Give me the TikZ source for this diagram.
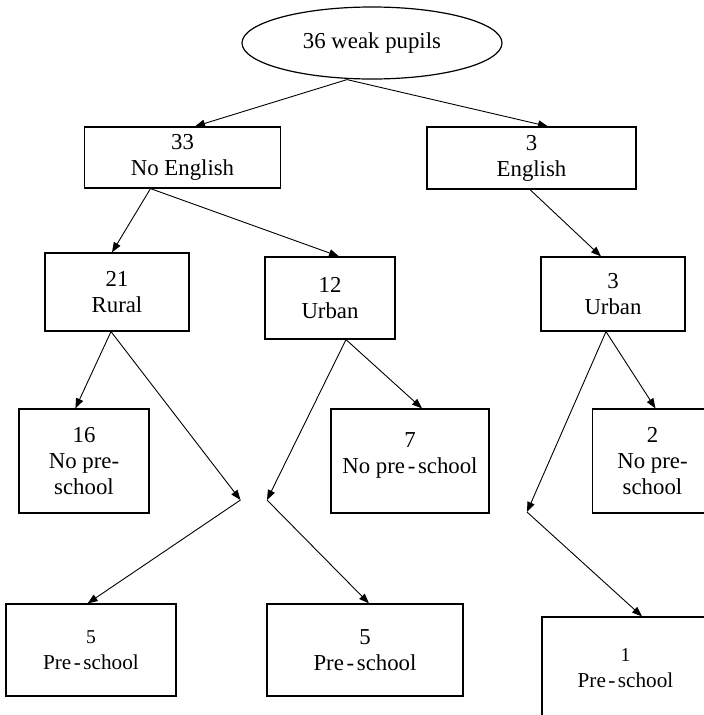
\documentclass[tikz,border=0pt]{standalone}
\usepackage{fontspec}
\usepackage{graphicx}
\setmainfont{Liberation Serif}
\usetikzlibrary{arrows.meta,shapes.geometric}
% spaced hyphen as set in the printed tree
\newcommand\sphy{\hspace{2.7pt}-\hspace{2.7pt}}
% smaller type used in the outer pre-school boxes
\newcommand\smallnum[1]{\scalebox{0.86}{#1}}
\newcommand\smalltxt[1]{\scalebox{0.93}{#1}}
\begin{document}
\begin{tikzpicture}[x=1pt,y=-1pt,
  every node/.style={font=\fontsize{22.8}{26}\selectfont, align=center, inner sep=0pt},
  box/.style={draw, line width=1.2pt, rectangle, minimum width=#1},
  oval/.style={draw, line width=1.2pt, ellipse},
  link/.style={line width=0.9pt, -{Triangle[length=10pt,width=7.5pt]}}]
\useasboundingbox (0,0) rectangle (704,715);
\clip (0,0) rectangle (704,715);

% top of the tree
\node[oval, minimum width=260pt, minimum height=72pt] (root) at (372,43) {36 weak pupils};

% first split
\node[box=196pt, minimum height=61pt] (noeng) at (182.5,157.5) {33\\No English};
\node[box=209pt, minimum height=62pt] (eng) at (531.5,158) {3\\English};

% second split
\node[box=144pt, minimum height=78pt] (rural) at (117,292) {21\\Rural};
\node[box=130pt, minimum height=82pt] (urbanA) at (330,298) {12\\Urban};
\node[box=144pt, minimum height=74pt] (urbanB) at (613,294) {3\\Urban};

% pre-school split: no pre-school
\node[box=130pt, minimum height=104pt] (nopsA) at (84,461) {16\\No pre-\\school};
\node[box=158pt, minimum height=104pt, text depth=15pt] (nopsB) at (410,461) {7\\No pre\sphy school};
\node[box=120pt, minimum height=104pt] (nopsC) at (652.5,461) {2\\No pre-\\school};

% pre-school split: pre-school
\node[box=170pt, minimum height=92pt] (psA) at (91,650) {\smallnum{5}\\\smalltxt{Pre\sphy school}};
\node[box=196pt, minimum height=92pt] (psB) at (365,650) {5\\Pre\sphy school};
\node[box=167pt, minimum height=102pt] (psC) at (625.5,668) {\smallnum{1}\\\smalltxt{Pre\sphy school}};

% bend points of the pre-school branches
\coordinate (jA) at (240.5,500);
\coordinate (jB) at (267,500);
\coordinate (jC) at (527,512);

% connectors
\draw[link] ([xshift=-25pt]root.south) -- ([xshift=12.5pt]noeng.north);
\draw[link] ([xshift=-25pt]root.south) -- ([xshift=16.5pt]eng.north);

\draw[link] ([xshift=-32pt]noeng.south) -- ([xshift=-5pt]rural.north);
\draw[link] ([xshift=-32pt]noeng.south) -- ([xshift=9pt]urbanA.north);
\draw[link] ([xshift=-1.5pt]eng.south) -- ([xshift=-12pt]urbanB.north);

\draw[link] ([xshift=-6pt]rural.south) -- ([xshift=-8.6pt]nopsA.north);
\draw[link] ([xshift=-6pt]rural.south) -- (jA);
\draw[link] (jA) -- ([xshift=-3.4pt]psA.north);

\draw[link] ([xshift=16pt]urbanA.south) -- ([xshift=12pt]nopsB.north);
\draw[link] ([xshift=16pt]urbanA.south) -- (jB);
\draw[link] (jB) -- ([xshift=4pt]psB.north);

\draw[link] ([xshift=-7pt]urbanB.south) -- ([xshift=3pt]nopsC.north);
\draw[link] ([xshift=-7pt]urbanB.south) -- (jC);
\draw[link] (jC) -- ([xshift=16.5pt]psC.north);
\end{tikzpicture}
\end{document}
